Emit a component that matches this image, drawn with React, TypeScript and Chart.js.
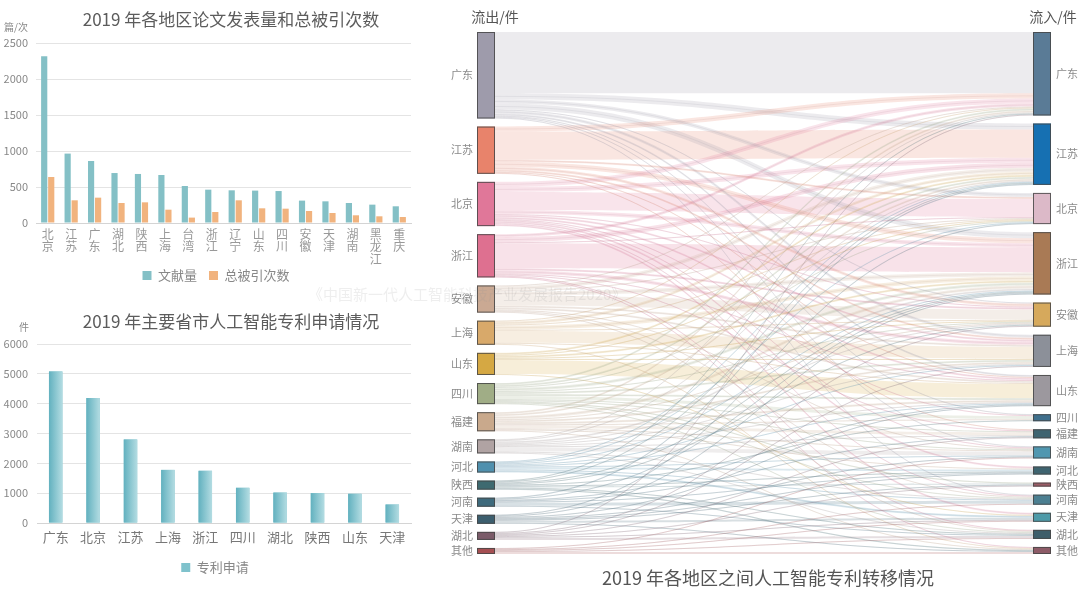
import React, { useEffect, useRef } from 'react';
import { Chart, registerables } from 'chart.js';

Chart.register(...registerables);

const FONT = '"Noto Sans CJK SC", "Noto Sans", sans-serif';

// ---------- Chart 1: papers & citations ----------
const paperTitle = '2019 年各地区论文发表量和总被引次数';
const paperUnit = '篇/次';
const paperRegions = ['北京', '江苏', '广东', '湖北', '陕西', '上海', '台湾', '浙江', '辽宁', '山东', '四川', '安徽', '天津', '湖南', '黑龙江', '重庆'];
const paperSeriesNames = ['文献量', '总被引次数'];
const paperCounts = [2315, 964, 861, 694, 681, 667, 514, 463, 454, 450, 444, 311, 301, 278, 255, 232];
const citationCounts = [639, 315, 352, 278, 287, 185, 75, 153, 315, 204, 199, 167, 139, 107, 93, 83];
const paperAxisMax = 2500;
const paperAxisStep = 500;

// ---------- Chart 2: patent applications ----------
const patentTitle = '2019 年主要省市人工智能专利申请情况';
const patentUnit = '件';
const patentRegions = ['广东', '北京', '江苏', '上海', '浙江', '四川', '湖北', '陕西', '山东', '天津'];
const patentSeriesName = '专利申请';
const patentCounts = [5080, 4190, 2800, 1780, 1750, 1180, 1020, 1000, 980, 620];
const patentAxisMax = 6000;
const patentAxisStep = 1000;

// ---------- Chart 3: patent transfer sankey ----------
const transferTitle = '2019 年各地区之间人工智能专利转移情况';
const outflowLabel = '流出/件';
const inflowLabel = '流入/件';
const transferRegions = ['广东', '江苏', '北京', '浙江', '安徽', '上海', '山东', '四川', '福建', '湖南', '河北', '陕西', '河南', '天津', '湖北', '其他'];
const outColors = ['#9e9bab', '#e8836b', '#e07799', '#de7090', '#caa993', '#d8a96a', '#d5a843', '#a0ad86', '#c9a98c', '#b0a3a3', '#4f90ae', '#3e6a70', '#3e6a7c', '#3c5e6e', '#7b5b69', '#a54f52'];
const inColors = ['#5a7b96', '#1670b2', '#dcb9c8', '#a97a55', '#d6a95c', '#8c9099', '#9c989e', '#3f6f8c', '#3e6471', '#5097b0', '#3e6470', '#9b5c66', '#4b7f91', '#4d9aa8', '#3e5e6a', '#8d5b67'];
const transferLinks: [string, string, number][] = [
  ['广东', '广东', 61], ['江苏', '江苏', 28], ['北京', '北京', 18], ['浙江', '浙江', 25],
  ['安徽', '安徽', 10], ['上海', '上海', 12], ['山东', '山东', 14], ['四川', '四川', 3],
  ['福建', '福建', 3], ['湖南', '湖南', 4], ['河北', '河北', 2], ['陕西', '陕西', 1],
  ['河南', '河南', 3], ['天津', '天津', 2], ['湖北', '湖北', 2], ['其他', '其他', 2],
  ['广东', '江苏', 6], ['广东', '北京', 4], ['广东', '浙江', 6], ['广东', '安徽', 1], ['广东', '上海', 3], ['广东', '山东', 2], ['广东', '四川', 1], ['广东', '湖南', 1], ['广东', '河南', 1],
  ['江苏', '广东', 5], ['江苏', '北京', 2], ['江苏', '浙江', 5], ['江苏', '安徽', 3], ['江苏', '上海', 2], ['江苏', '山东', 1], ['江苏', '福建', 1],
  ['北京', '广东', 5], ['北京', '江苏', 5], ['北京', '浙江', 4], ['北京', '安徽', 1], ['北京', '上海', 2], ['北京', '山东', 2], ['北京', '四川', 1], ['北京', '湖南', 1], ['北京', '河北', 2], ['北京', '河南', 1], ['北京', '天津', 2],
  ['浙江', '广东', 3], ['浙江', '江苏', 5], ['浙江', '北京', 1], ['浙江', '安徽', 2], ['浙江', '上海', 3], ['浙江', '山东', 1], ['浙江', '福建', 1], ['浙江', '湖北', 1], ['浙江', '其他', 1],
  ['安徽', '广东', 1], ['安徽', '江苏', 4], ['安徽', '北京', 1], ['安徽', '浙江', 4], ['安徽', '上海', 2], ['安徽', '山东', 2], ['安徽', '河南', 1], ['安徽', '湖北', 1], ['安徽', '湖南', 1],
  ['上海', '广东', 1], ['上海', '江苏', 3], ['上海', '北京', 1], ['上海', '浙江', 4], ['上海', '安徽', 1], ['上海', '山东', 1], ['上海', '其他', 1],
  ['山东', '江苏', 2], ['山东', '北京', 1], ['山东', '浙江', 2], ['山东', '安徽', 1], ['山东', '上海', 1], ['山东', '天津', 1],
  ['四川', '广东', 2], ['四川', '江苏', 2], ['四川', '北京', 1], ['四川', '浙江', 3], ['四川', '安徽', 1], ['四川', '上海', 2], ['四川', '山东', 2], ['四川', '福建', 1], ['四川', '湖南', 1], ['四川', '陕西', 1], ['四川', '河南', 1], ['四川', '湖北', 1],
  ['福建', '广东', 2], ['福建', '江苏', 2], ['福建', '浙江', 3], ['福建', '安徽', 1], ['福建', '上海', 2], ['福建', '山东', 2], ['福建', '四川', 1], ['福建', '湖南', 1], ['福建', '河北', 1], ['福建', '其他', 1],
  ['湖南', '广东', 1], ['湖南', '江苏', 1], ['湖南', '浙江', 2], ['湖南', '安徽', 1], ['湖南', '上海', 1], ['湖南', '山东', 1], ['湖南', '福建', 1], ['湖南', '湖北', 1], ['湖南', '河南', 1],
  ['河北', '江苏', 1], ['河北', '北京', 1], ['河北', '浙江', 1], ['河北', '山东', 1], ['河北', '天津', 2], ['河北', '河南', 1], ['河北', '上海', 1], ['河北', '湖南', 1],
  ['陕西', '广东', 1], ['陕西', '江苏', 1], ['陕西', '浙江', 1], ['陕西', '安徽', 1], ['陕西', '四川', 1], ['陕西', '河北', 1], ['陕西', '湖北', 1], ['陕西', '其他', 1],
  ['河南', '江苏', 1], ['河南', '浙江', 1], ['河南', '山东', 1], ['河南', '福建', 1], ['河南', '河北', 1], ['河南', '湖北', 1],
  ['天津', '北京', 1], ['天津', '浙江', 1], ['天津', '山东', 1], ['天津', '河北', 1], ['天津', '陕西', 1], ['天津', '其他', 1], ['天津', '湖南', 1],
  ['湖北', '广东', 1], ['湖北', '安徽', 1], ['湖北', '上海', 1], ['湖北', '福建', 1], ['湖北', '陕西', 1], ['湖北', '天津', 1],
  ['其他', '湖南', 1], ['其他', '河南', 1], ['其他', '天津', 1], ['其他', '湖北', 1],
];
const watermark = '《中国新一代人工智能科技产业发展报告2020》';

const NODE_GAP = 8;
const NODE_W = 18;

function rgbOf(hex: string) {
  const h = hex.replace('#', '');
  return [parseInt(h.slice(0, 2), 16), parseInt(h.slice(2, 4), 16), parseInt(h.slice(4, 6), 16)];
}
function hexA(hex: string, a: number) {
  const [r, g, b] = rgbOf(hex);
  return `rgba(${r},${g},${b},${a})`;
}
function mixGrayA(hex: string, a: number) {
  const [r, g, b] = rgbOf(hex);
  const m = (c: number, gc: number) => Math.round((c + gc) / 2);
  return `rgba(${m(r, 150)},${m(g, 150)},${m(b, 158)},${a})`;
}

function sankeyLayout() {
  const n = transferRegions.length;
  const idx = (name: string) => transferRegions.indexOf(name);
  const outTot = new Array(n).fill(0);
  const inTot = new Array(n).fill(0);
  transferLinks.forEach(([s, t, v]) => { outTot[idx(s)] += v; inTot[idx(t)] += v; });
  const total = outTot.reduce((a, b) => a + b, 0);
  const leftTop: number[] = [];
  const rightTop: number[] = [];
  let a = 0, b = 0;
  for (let i = 0; i < n; i++) {
    leftTop.push(a); a += outTot[i] + NODE_GAP;
    rightTop.push(b); b += inTot[i] + NODE_GAP;
  }
  const yMax = total + (n - 1) * NODE_GAP;
  const links = transferLinks.map(([s, t, v]) => ({ s: idx(s), t: idx(t), v, sy: 0, ty: 0 }));
  const off = leftTop.slice();
  [...links].sort((p, q) => p.s - q.s || p.t - q.t).forEach(l => { l.sy = off[l.s]; off[l.s] += l.v; });
  const off2 = rightTop.slice();
  [...links].sort((p, q) => p.t - q.t || p.s - q.s).forEach(l => { l.ty = off2[l.t]; off2[l.t] += l.v; });
  return { outTot, inTot, leftTop, rightTop, yMax, links };
}

const captionPlugin = {
  id: 'caption',
  afterLayout(chart: any) {
    // widen the label clipping regions so multi-line / long tick labels are not cut
    const x = chart.scales.x, y = chart.scales.y;
    if (x) x.bottom = x.top + 60;
    if (y) y.left = 0;
  },
  afterDraw(chart: any, _args: any, opts: any) {
    if (!opts || !opts.title) return;
    const ctx = chart.ctx;
    ctx.save();
    ctx.fillStyle = '#5c5c5c';
    ctx.font = `17px ${FONT}`;
    ctx.textAlign = 'center';
    ctx.textBaseline = 'middle';
    ctx.fillText(opts.title, opts.titleX, opts.titleY);
    ctx.font = `10px ${FONT}`;
    ctx.fillStyle = '#888';
    ctx.textAlign = 'left';
    ctx.fillText(opts.unit, opts.unitX, opts.unitY);
    ctx.restore();
  },
};

const barGradientPlugin = {
  id: 'barGradient',
  afterDatasetDraw(chart: any, args: any, opts: any) {
    if (!opts || !opts.from) return;
    const ctx = chart.ctx;
    ctx.save();
    args.meta.data.forEach((el: any) => {
      const { x, y, base, width } = el.getProps(['x', 'y', 'base', 'width'], true);
      const g = ctx.createLinearGradient(x - width / 2, 0, x + width / 2, 0);
      g.addColorStop(0, opts.from);
      g.addColorStop(1, opts.to);
      ctx.fillStyle = g;
      ctx.fillRect(x - width / 2, y, width, base - y);
    });
    ctx.restore();
  },
};

const sankeyPlugin = {
  id: 'sankeyFlows',
  afterDatasetsDraw(chart: any) {
    const { ctx } = chart;
    const xs = chart.scales.x, ys = chart.scales.y;
    const L = sankeyLayout();
    const xl = xs.getPixelForValue(0);
    const xr = xs.getPixelForValue(1);
    const x0 = xl + NODE_W, x1 = xr - NODE_W;
    const xm = (x0 + x1) / 2;
    const py = (v: number) => ys.getPixelForValue(v);
    ctx.save();
    const ordered = [...L.links].sort((a, b) => b.v - a.v);
    ordered.forEach(l => {
      const sy0 = py(l.sy), sy1 = py(l.sy + l.v);
      const ty0 = py(l.ty), ty1 = py(l.ty + l.v);
      ctx.beginPath();
      ctx.moveTo(x0, sy0);
      ctx.bezierCurveTo(xm, sy0, xm, ty0, x1, ty0);
      ctx.lineTo(x1, ty1);
      ctx.bezierCurveTo(xm, ty1, xm, sy1, x0, sy1);
      ctx.closePath();
      ctx.fillStyle = hexA(outColors[l.s], 0.2);
      ctx.fill();
      if (l.s !== l.t) {
        const sc = (sy0 + sy1) / 2, tc = (ty0 + ty1) / 2;
        ctx.beginPath();
        ctx.moveTo(x0, sc);
        ctx.bezierCurveTo(xm, sc, xm, tc, x1, tc);
        ctx.strokeStyle = mixGrayA(outColors[l.s], 0.2);
        ctx.lineWidth = 0.8;
        ctx.stroke();
      }
    });
    ctx.lineWidth = 1;
    ctx.strokeStyle = 'rgba(70,70,70,0.85)';
    ctx.font = `11px ${FONT}`;
    ctx.textBaseline = 'middle';
    transferRegions.forEach((name, i) => {
      const lt = py(L.leftTop[i]), lb = py(L.leftTop[i] + L.outTot[i]);
      ctx.fillStyle = outColors[i];
      ctx.fillRect(xl, lt, NODE_W, lb - lt);
      ctx.strokeRect(xl + 0.5, lt + 0.5, NODE_W - 1, lb - lt - 1);
      const rt = py(L.rightTop[i]), rb = py(L.rightTop[i] + L.inTot[i]);
      ctx.fillStyle = inColors[i];
      ctx.fillRect(x1, rt, NODE_W, rb - rt);
      ctx.strokeRect(x1 + 0.5, rt + 0.5, NODE_W - 1, rb - rt - 1);
      ctx.fillStyle = '#8a8a8a';
      ctx.textAlign = 'right';
      ctx.fillText(name, xl - 4, (lt + lb) / 2);
      ctx.textAlign = 'left';
      ctx.fillText(name, xr + 5, (rt + rb) / 2);
    });
    ctx.fillStyle = '#555';
    ctx.font = `14px ${FONT}`;
    ctx.textAlign = 'center';
    ctx.fillText(outflowLabel, xl + 18, 17);
    ctx.fillText(inflowLabel, xr + 2, 17);
    ctx.font = `18px ${FONT}`;
    ctx.fillText(transferTitle, (xl + xr) / 2 + 4, 578);
    ctx.restore();
  },
};

const plainTick = (v: any) => String(v);

export default function App() {
  const paperRef = useRef<HTMLCanvasElement>(null);
  const patentRef = useRef<HTMLCanvasElement>(null);
  const sankeyRef = useRef<HTMLCanvasElement>(null);

  useEffect(() => {
    Chart.defaults.font.family = FONT;
    const charts: Chart[] = [];

    charts.push(new Chart(paperRef.current as HTMLCanvasElement, {
      type: 'bar',
      data: {
        labels: paperRegions.map(r => r.split('')),
        datasets: [
          { label: paperSeriesNames[0], data: paperCounts, backgroundColor: '#84c0c6', categoryPercentage: 0.6, barPercentage: 0.88 },
          { label: paperSeriesNames[1], data: citationCounts, backgroundColor: '#f1b37e', categoryPercentage: 0.6, barPercentage: 0.88 },
        ],
      },
      options: {
        animation: false,
        responsive: false,
        layout: { padding: { left: 21, right: 29, top: 43, bottom: 0 } },
        scales: {
          x: {
            afterFit: (s: any) => { s.height = 34; },
            grid: { display: false, drawTicks: false },
            border: { color: '#d4d4d4' },
            ticks: { color: '#999', font: { size: 12, lineHeight: 1.05 }, padding: 5, maxRotation: 0, autoSkip: false },
          },
          y: {
            min: 0, max: paperAxisMax,
            afterFit: (s: any) => { s.width = 15; },
            border: { display: false },
            grid: { color: '#e4e4e4', drawTicks: false },
            ticks: { stepSize: paperAxisStep, color: '#888', font: { size: 11 }, padding: 8, callback: plainTick },
          },
        },
        plugins: {
          legend: { position: 'bottom', labels: { boxWidth: 9, boxHeight: 9, color: '#888', font: { size: 13 }, padding: 12 } },
          tooltip: { enabled: false },
          caption: { title: paperTitle, titleX: 231, titleY: 20, unit: paperUnit, unitX: 4, unitY: 27 },
        } as any,
      },
      plugins: [captionPlugin],
    }));

    charts.push(new Chart(patentRef.current as HTMLCanvasElement, {
      type: 'bar',
      data: {
        labels: patentRegions,
        datasets: [
          { label: patentSeriesName, data: patentCounts, backgroundColor: '#7fc2cc', categoryPercentage: 0.36, barPercentage: 1 },
        ],
      },
      options: {
        animation: false,
        responsive: false,
        layout: { padding: { left: 19, right: 29, top: 44, bottom: 0 } },
        scales: {
          x: {
            afterFit: (s: any) => { s.height = 26; },
            grid: { display: false, drawTicks: false },
            border: { color: '#d4d4d4' },
            ticks: { color: '#777', font: { size: 13 }, padding: 6, maxRotation: 0, autoSkip: false },
          },
          y: {
            min: 0, max: patentAxisMax,
            afterFit: (s: any) => { s.width = 18; },
            border: { display: false },
            grid: { color: '#e4e4e4', drawTicks: false },
            ticks: { stepSize: patentAxisStep, color: '#888', font: { size: 11 }, padding: 9, callback: plainTick },
          },
        },
        plugins: {
          legend: { position: 'bottom', labels: { boxWidth: 9, boxHeight: 9, color: '#888', font: { size: 13 }, padding: 12 } },
          tooltip: { enabled: false },
          caption: { title: patentTitle, titleX: 231, titleY: 22, unit: patentUnit, unitX: 19, unitY: 27 },
          barGradient: { from: '#62b1bf', to: '#b3dce2' },
        } as any,
      },
      plugins: [captionPlugin, barGradientPlugin],
    }));

    const L = sankeyLayout();
    charts.push(new Chart(sankeyRef.current as HTMLCanvasElement, {
      type: 'scatter',
      data: { datasets: [{ data: [] }] },
      options: {
        animation: false,
        responsive: false,
        layout: { padding: { left: 37, right: 29, top: 32, bottom: 46 } },
        scales: {
          x: { type: 'linear', min: 0, max: 1, display: false },
          y: { type: 'linear', min: 0, max: L.yMax, reverse: true, display: false },
        },
        plugins: { legend: { display: false }, tooltip: { enabled: false } },
      },
      plugins: [sankeyPlugin],
    }));

    return () => charts.forEach(c => c.destroy());
  }, []);

  return (
    <div style={{ position: 'fixed', left: 0, top: 0, width: 1080, height: 600, background: '#fff', overflow: 'hidden' }}>
      <canvas ref={paperRef} width={440} height={292} style={{ position: 'absolute', left: 0, top: 0, width: 440, height: 292 }} />
      <canvas ref={patentRef} width={440} height={284} style={{ position: 'absolute', left: 0, top: 300, width: 440, height: 284 }} />
      <canvas ref={sankeyRef} width={640} height={600} style={{ position: 'absolute', left: 440, top: 0, width: 640, height: 600 }} />
      <div style={{ position: 'absolute', left: 308, top: 283, font: `15px ${FONT}`, color: 'rgba(150,150,150,0.16)', whiteSpace: 'nowrap', pointerEvents: 'none' }}>{watermark}</div>
    </div>
  );
}
